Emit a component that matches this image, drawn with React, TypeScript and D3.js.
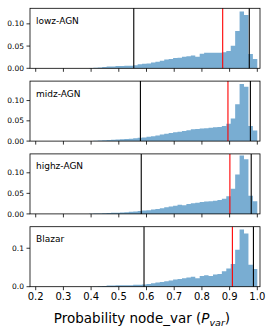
import React from "react"
import * as d3 from "d3"

// histogram fractions, 50 bins of width 0.016 starting at 0.2
const binStart = 0.2
const binWidth = 0.016

const panelNames = ["lowz-AGN", "midz-AGN", "highz-AGN", "Blazar"]

const lowz = [
  0, 0, 0, 0, 0, 0, 0, 0, 0, 0, 0, 0,
  0.0005, 0.001, 0.002, 0.003, 0.004, 0.004, 0.005, 0.005, 0.006, 0.006, 0.007,
  0.009, 0.010, 0.011, 0.013, 0.015, 0.017, 0.020, 0.021, 0.023, 0.024, 0.026, 0.027, 0.029,
  0.026, 0.033, 0.035, 0.035, 0.035, 0.035, 0.036, 0.039,
  0.051, 0.084, 0.128, 0.120, 0.032, 0.021,
]
const midz = [
  0, 0, 0, 0, 0, 0, 0, 0, 0, 0, 0, 0,
  0.0003, 0.001, 0.0015, 0.002, 0.003, 0.0035, 0.004, 0.0045, 0.005, 0.006, 0.007,
  0.008, 0.009, 0.011, 0.012, 0.014, 0.016, 0.018, 0.020, 0.022, 0.023, 0.025, 0.027, 0.029,
  0.030, 0.031, 0.032, 0.033, 0.034, 0.035, 0.037, 0.043,
  0.056, 0.091, 0.141, 0.134, 0.037, 0.026,
]
const highz = [
  0, 0, 0, 0, 0, 0, 0, 0, 0, 0, 0, 0,
  0.0003, 0.0007, 0.001, 0.0015, 0.002, 0.0025, 0.003, 0.0035, 0.004, 0.005, 0.006,
  0.007, 0.008, 0.009, 0.011, 0.012, 0.014, 0.016, 0.018, 0.020, 0.022, 0.021, 0.024, 0.026,
  0.027, 0.029, 0.030, 0.031, 0.032, 0.034, 0.037, 0.043,
  0.061, 0.096, 0.142, 0.133, 0.044, 0.031,
]
const blazar = [
  0, 0, 0, 0, 0, 0, 0, 0, 0, 0, 0, 0,
  0, 0.0005, 0.001, 0.002, 0.003, 0.003, 0.0035, 0.004, 0.004, 0.004, 0.005,
  0.005, 0.006, 0.007, 0.009, 0.011, 0.012, 0.014, 0.016, 0.019, 0.020, 0.022, 0.024, 0.026,
  0.022, 0.028, 0.030, 0.028, 0.032, 0.033, 0.040, 0.047,
  0.059, 0.096, 0.149, 0.138, 0.057, 0.046,
]
const panelValues = [lowz, midz, highz, blazar]

// vertical markers: left black, red, right black
const blackLeft = [0.554, 0.578, 0.581, 0.591]
const redLine = [0.875, 0.894, 0.901, 0.910]
const blackRight = [0.971, 0.975, 0.978, 0.986]

const yMax = [0.135, 0.148, 0.146, 0.156]
const yTicks = [[0, 0.05, 0.1], [0, 0.05, 0.1], [0, 0.05, 0.1], [0, 0.1]]
const yFormat = [".2f", ".2f", ".2f", ".1f"]
const xTicks = [0.2, 0.3, 0.4, 0.5, 0.6, 0.7, 0.8, 0.9, 1.0]

const W = 275, H = 330
const left = 30, right = 260
const firstTop = 8.3, panelH = 60, step = 72.8
const font = "DejaVu Sans, sans-serif"

export default function App() {
  const x = d3.scaleLinear().domain([0.1794, 1.0097]).range([left, right])

  return (
    <svg width={W} height={H} style={{ position: "absolute", left: 0, top: 0, background: "#fff" }}>
      {panelValues.map((vals, i) => {
        const top = firstTop + i * step
        const bottom = top + panelH
        const y = d3.scaleLinear().domain([0, yMax[i]]).range([bottom, top])
        const pts: [number, number][] = vals.map((v, k) => [binStart + k * binWidth, v])
        pts.push([binStart + vals.length * binWidth, vals[vals.length - 1]])
        const area = d3.area<[number, number]>()
          .x(d => x(d[0]))
          .y0(y(0))
          .y1(d => y(d[1]))
          .curve(d3.curveStepAfter)
        const fmt = d3.format(yFormat[i])
        return (
          <g key={i}>
            <path d={area(pts) || ""} fill="#1f77b4" fillOpacity={0.6} />
            <line x1={x(blackLeft[i])} x2={x(blackLeft[i])} y1={top} y2={bottom} stroke="#000" strokeWidth={1.1} />
            <line x1={x(redLine[i])} x2={x(redLine[i])} y1={top} y2={bottom} stroke="#ff0000" strokeWidth={1.1} />
            <line x1={x(blackRight[i])} x2={x(blackRight[i])} y1={top} y2={bottom} stroke="#000" strokeWidth={1.1} />
            <rect x={left} y={top} width={right - left} height={panelH} fill="none" stroke="#000" strokeWidth={0.8} />
            {yTicks[i].map(t => (
              <g key={t}>
                <line x1={left - 3.5} x2={left} y1={y(t)} y2={y(t)} stroke="#000" strokeWidth={0.8} />
                <text x={left - 6} y={y(t)} dy="0.35em" textAnchor="end" fontFamily={font} fontSize={7.5}>{fmt(t)}</text>
              </g>
            ))}
            {xTicks.map(t => (
              <line key={t} x1={x(t)} x2={x(t)} y1={bottom} y2={bottom + 3.5} stroke="#000" strokeWidth={0.8} />
            ))}
            <text x={36} y={top + 15.5} fontFamily={font} fontSize={9}>{panelNames[i]}</text>
            {i === panelValues.length - 1 && xTicks.map(t => (
              <text key={"l" + t} x={x(t)} y={bottom + 13.5} textAnchor="middle" fontFamily={font} fontSize={10}>{d3.format(".1f")(t)}</text>
            ))}
          </g>
        )
      })}
      <text x={142} y={323} textAnchor="middle" fontFamily={font} fontSize={13.5}>
        Probability node_var (<tspan fontStyle="italic">P</tspan>
        <tspan fontStyle="italic" fontSize={9.5} dy={2.5}>var</tspan>
        <tspan dy={-2.5}>)</tspan>
      </text>
    </svg>
  )
}
